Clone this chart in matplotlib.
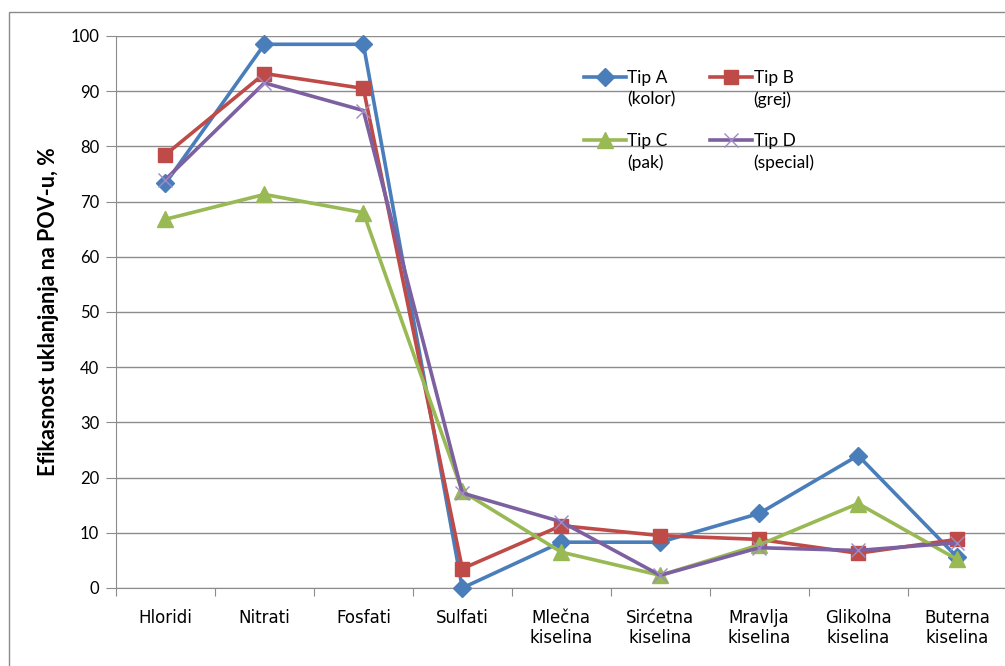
import matplotlib
matplotlib.use("Agg")
import matplotlib.pyplot as plt
from matplotlib.patches import Rectangle
import numpy as np

categories = ["Hloridi", "Nitrati", "Fosfati", "Sulfati", "Mlečna\nkiselina",
              "Sirćetna\nkiselina", "Mravlja\nkiselina", "Glikolna\nkiselina", "Buterna\nkiselina"]
tip_a = [73.3, 98.5, 98.5, 0.0, 8.3, 8.3, 13.5, 24.0, 5.6]
tip_b = [78.5, 93.2, 90.5, 3.5, 11.3, 9.5, 8.8, 6.3, 8.8]
tip_c = [66.8, 71.3, 68.0, 17.5, 6.5, 2.3, 7.8, 15.3, 5.2]
tip_d = [74.0, 91.5, 86.5, 17.2, 12.0, 2.3, 7.3, 6.8, 8.2]
series_names = ["Tip A", "Tip B", "Tip C", "Tip D"]
series_notes = ["(kolor)", "(grej)", "(pak)", "(special)"]
y_ticks = [0, 10, 20, 30, 40, 50, 60, 70, 80, 90, 100]
y_label = "Efikasnost uklanjanja na POV-u, %"

W, H = 1005, 666
fig = plt.figure(figsize=(W / 100, H / 100), dpi=100)
fig.patches.append(Rectangle((9 / W, 0 - 0.01), 1.1, 1 - 12 / H + 0.01,
                             transform=fig.transFigure, fill=False,
                             edgecolor="#8a8a8a", linewidth=1.0))
ax = fig.add_axes([116 / W, 1 - 588 / H, (1006.5 - 116) / W, (588 - 36) / H])
ax.patch.set_alpha(0)

x = np.arange(len(categories))
styles = [
    (tip_a, "#4A7EBB", "D", 9.5, None, 1.0),
    (tip_b, "#BE4B48", "s", 10.5, None, 1.0),
    (tip_c, "#98B954", "^", 11, None, 1.0),
    (tip_d, "#7D60A0", "x", 10, "#a08ac6", 1.0),
]
handles = []
for (vals, col, mk, ms, mec, mew), lab in zip(styles, series_names):
    h, = ax.plot(x, vals, color=col, linewidth=2.6, marker=mk, markersize=ms,
                 markerfacecolor=col, markeredgecolor=mec or col,
                 markeredgewidth=mew, label=lab, clip_on=False, zorder=3)
    handles.append(h)

ax.set_xlim(-0.5, len(categories) - 0.5)
ax.set_ylim(0, 100)
ax.set_yticks(y_ticks)
ax.set_yticklabels([str(v) for v in y_ticks], fontsize=12, family="Lato")
ax.yaxis.grid(True, color="#8c8c8c", linewidth=1.0)
ax.set_axisbelow(True)
for s in ["top", "right"]:
    ax.spines[s].set_visible(False)
for s in ["left", "bottom"]:
    ax.spines[s].set_color("#8c8c8c")
ax.tick_params(axis="y", direction="out", length=7, color="#8c8c8c", pad=5)

ax.set_xticks(np.arange(-0.5, len(categories), 1.0))
ax.set_xticklabels([])
ax.tick_params(axis="x", which="major", direction="out", length=6, color="#8c8c8c")
ax.set_xticks(x, minor=True)
ax.set_xticklabels(categories, minor=True, fontsize=12, family="Liberation Sans Narrow",
                   linespacing=1.15)
ax.tick_params(axis="x", which="minor", length=0, pad=15)

ax.set_ylabel(y_label, fontsize=15.5, fontweight="bold", family="Lato", labelpad=8)

order = [0, 2, 1, 3]
leg = ax.legend(handles=[handles[i] for i in order], labels=[series_names[i] for i in order],
                ncol=2, frameon=False, loc="upper left", bbox_to_anchor=(0.508, 0.966),
                prop={"family": "Lato", "size": 12.5},
                handlelength=2.4, handletextpad=0.1, columnspacing=2.45, labelspacing=2.7)

fig.canvas.draw()
renderer = fig.canvas.get_renderer()
txts = leg.get_texts()
for t, i in zip(txts, order):
    bb = t.get_window_extent(renderer)
    fig.text(bb.x0 / W, (bb.y0 - 5) / H, series_notes[i], ha="left", va="top",
             family="Lato", fontsize=12.5)

fig.savefig("out.png", dpi=100)
